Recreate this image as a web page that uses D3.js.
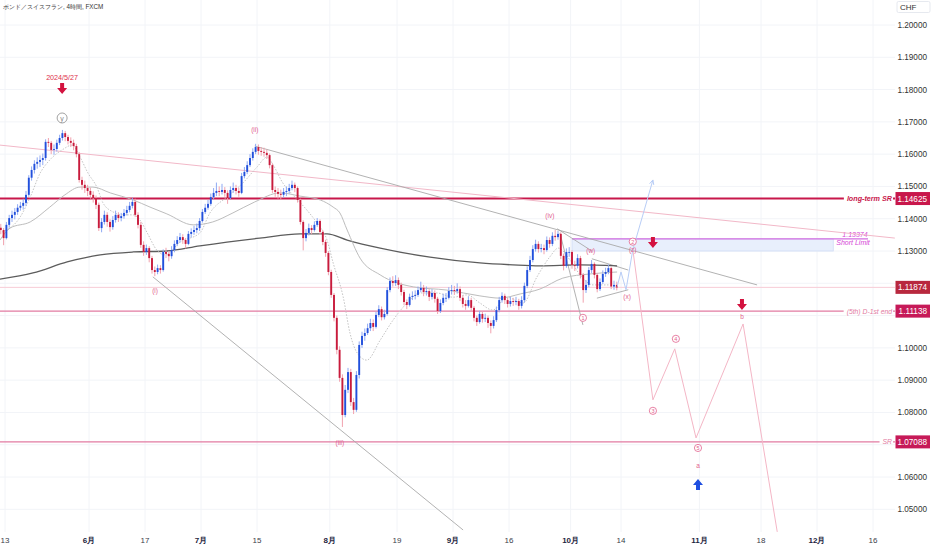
<!DOCTYPE html>
<html>
<head>
<meta charset="utf-8">
<script src="https://cdn.jsdelivr.net/npm/d3@7"></script>
<style>
  html, body { margin: 0; padding: 0; background: #fff; }
  svg { display: block; }
  text { font-family: "Liberation Sans", Arial, sans-serif; }
</style>
</head>
<body>
<svg id="chart"></svg>
<script>
// ---- data (12h bars, prices in CHF) ----
const startDay = -1;          // trading-day index of the first bar (Fri 10 May)
const firstOpen = 1.1372;

const closes = [
  1.1365,1.1340,1.1381,1.1402,1.1412,1.1421,1.1434,1.1440,1.1449,1.1474,
  1.1527,1.1551,1.1570,1.1576,1.1582,1.1588,1.1638,1.1635,1.1613,1.1616,
  1.1635,1.1650,1.1665,1.1653,1.1641,1.1635,1.1625,1.1600,1.1520,1.1505,
  1.1495,1.1486,1.1474,1.1464,1.1443,1.1371,1.1390,1.1412,1.1390,1.1374,
  1.1396,1.1412,1.1402,1.1408,1.1418,1.1427,1.1440,1.1452,1.1412,1.1381,
  1.1319,1.1297,1.1309,1.1278,1.1241,1.1235,1.1247,1.1241,1.1297,1.1291,
  1.1284,1.1303,1.1322,1.1334,1.1343,1.1334,1.1322,1.1353,1.1359,1.1365,
  1.1371,1.1393,1.1421,1.1434,1.1446,1.1467,1.1480,1.1486,1.1483,1.1489,
  1.1480,1.1464,1.1489,1.1495,1.1486,1.1480,1.1532,1.1545,1.1566,1.1588,
  1.1607,1.1622,1.1610,1.1607,1.1604,1.1597,1.1566,1.1489,1.1483,1.1477,
  1.1474,1.1483,1.1486,1.1495,1.1505,1.1495,1.1458,1.1390,1.1340,1.1356,
  1.1371,1.1365,1.1381,1.1393,1.1359,1.1328,1.1294,1.1235,1.1164,1.1093,
  1.0994,1.0907,1.0792,1.0870,1.0925,1.0832,1.0808,1.0916,1.1009,1.1037,
  1.1046,1.1061,1.1077,1.1065,1.1102,1.1120,1.1095,1.1105,1.1179,1.1207,
  1.1201,1.1210,1.1195,1.1173,1.1142,1.1133,1.1158,1.1161,1.1164,1.1179,
  1.1186,1.1173,1.1176,1.1158,1.1170,1.1152,1.1114,1.1139,1.1155,1.1155,
  1.1176,1.1179,1.1176,1.1182,1.1155,1.1136,1.1130,1.1148,1.1124,1.1093,
  1.1080,1.1105,1.1090,1.1093,1.1077,1.1068,1.1086,1.1117,1.1148,1.1161,
  1.1148,1.1136,1.1145,1.1142,1.1145,1.1130,1.1148,1.1192,1.1241,1.1272,
  1.1306,1.1322,1.1306,1.1309,1.1303,1.1334,1.1322,1.1347,1.1343,1.1353,
  1.1285,1.1254,1.1297,1.1297,1.1257,1.1254,1.1278,1.1226,1.1179,1.1195,
  1.1241,1.1260,1.1226,1.1182,1.1204,1.1229,1.1235,1.1247,1.1190,1.1195,1.1187
];

const highs = [
  1.1384,1.1371,1.1390,1.1412,1.1425,1.1433,1.1445,1.1452,1.1462,1.1486,
  1.1535,1.1562,1.1581,1.1590,1.1596,1.1602,1.1646,1.1650,1.1641,1.1630,
  1.1645,1.1660,1.1675,1.1672,1.1660,1.1652,1.1645,1.1632,1.1606,1.1530,
  1.1518,1.1505,1.1496,1.1485,1.1472,1.1450,1.1402,1.1425,1.1420,1.1398,
  1.1408,1.1425,1.1420,1.1418,1.1430,1.1440,1.1452,1.1465,1.1462,1.1420,
  1.1390,1.1330,1.1320,1.1315,1.1285,1.1252,1.1258,1.1256,1.1305,1.1310,
  1.1300,1.1315,1.1333,1.1346,1.1356,1.1352,1.1340,1.1362,1.1370,1.1378,
  1.1385,1.1402,1.1430,1.1446,1.1458,1.1478,1.1495,1.1512,1.1500,1.1508,
  1.1498,1.1488,1.1500,1.1512,1.1505,1.1496,1.1542,1.1560,1.1578,1.1600,
  1.1618,1.1632,1.1630,1.1622,1.1620,1.1615,1.1602,1.1572,1.1500,1.1495,
  1.1490,1.1495,1.1500,1.1508,1.1518,1.1512,1.1500,1.1462,1.1395,1.1368,
  1.1385,1.1380,1.1392,1.1402,1.1398,1.1365,1.1335,1.1300,1.1242,1.1170,
  1.1100,1.1005,1.0918,1.0885,1.0938,1.0935,1.0845,1.0928,1.1020,1.1050,
  1.1060,1.1075,1.1090,1.1088,1.1112,1.1132,1.1128,1.1118,1.1188,1.1218,
  1.1222,1.1225,1.1218,1.1202,1.1180,1.1150,1.1168,1.1175,1.1178,1.1190,
  1.1205,1.1195,1.1190,1.1182,1.1182,1.1178,1.1158,1.1150,1.1168,1.1170,
  1.1188,1.1195,1.1192,1.1200,1.1190,1.1162,1.1148,1.1160,1.1155,1.1130,
  1.1100,1.1115,1.1112,1.1106,1.1100,1.1085,1.1098,1.1128,1.1158,1.1172,
  1.1168,1.1155,1.1158,1.1155,1.1158,1.1152,1.1160,1.1202,1.1252,1.1285,
  1.1318,1.1335,1.1330,1.1322,1.1320,1.1345,1.1342,1.1358,1.1365,1.1362,
  1.1358,1.1292,1.1308,1.1312,1.1302,1.1270,1.1290,1.1285,1.1232,1.1210,
  1.1250,1.1272,1.1265,1.1232,1.1215,1.1240,1.1248,1.1258,1.1252,1.1208,1.1205
];

const lows = [
  1.1352,1.1318,1.1336,1.1372,1.1390,1.1398,1.1412,1.1425,1.1428,1.1440,
  1.1468,1.1518,1.1540,1.1555,1.1560,1.1566,1.1580,1.1622,1.1600,1.1598,
  1.1608,1.1628,1.1642,1.1640,1.1630,1.1622,1.1612,1.1590,1.1512,1.1490,
  1.1480,1.1470,1.1462,1.1450,1.1430,1.1362,1.1358,1.1382,1.1375,1.1360,
  1.1366,1.1388,1.1390,1.1392,1.1400,1.1410,1.1420,1.1432,1.1405,1.1370,
  1.1310,1.1285,1.1288,1.1265,1.1230,1.1222,1.1228,1.1230,1.1236,1.1278,
  1.1268,1.1276,1.1296,1.1315,1.1326,1.1322,1.1308,1.1318,1.1342,1.1350,
  1.1355,1.1362,1.1388,1.1415,1.1428,1.1440,1.1460,1.1470,1.1470,1.1475,
  1.1468,1.1446,1.1460,1.1480,1.1475,1.1468,1.1476,1.1525,1.1538,1.1560,
  1.1580,1.1600,1.1598,1.1595,1.1592,1.1585,1.1556,1.1480,1.1468,1.1462,
  1.1460,1.1465,1.1470,1.1478,1.1488,1.1482,1.1450,1.1382,1.1302,1.1330,
  1.1348,1.1352,1.1360,1.1375,1.1350,1.1318,1.1282,1.1225,1.1155,1.1082,
  1.0980,1.0895,1.0755,1.0785,1.0860,1.0820,1.0795,1.0802,1.0905,1.1000,
  1.1022,1.1040,1.1052,1.1052,1.1060,1.1095,1.1085,1.1088,1.1100,1.1172,
  1.1190,1.1192,1.1182,1.1162,1.1132,1.1120,1.1128,1.1148,1.1150,1.1158,
  1.1172,1.1160,1.1162,1.1145,1.1150,1.1140,1.1105,1.1108,1.1132,1.1142,
  1.1150,1.1165,1.1164,1.1168,1.1145,1.1125,1.1118,1.1125,1.1112,1.1082,
  1.1068,1.1075,1.1078,1.1080,1.1062,1.1045,1.1060,1.1080,1.1110,1.1140,
  1.1136,1.1125,1.1128,1.1130,1.1132,1.1118,1.1122,1.1140,1.1185,1.1235,
  1.1265,1.1298,1.1295,1.1296,1.1290,1.1298,1.1310,1.1315,1.1332,1.1335,
  1.1275,1.1240,1.1248,1.1282,1.1245,1.1238,1.1246,1.1215,1.1140,1.1170,
  1.1188,1.1232,1.1215,1.1172,1.1176,1.1198,1.1220,1.1228,1.1182,1.1180,1.1178
];

// moving averages: [trading day, price]
const maLong = [
  [-0.9,1.1213],[5.0,1.1232],[11.1,1.1266],[17.0,1.1288],[22.9,1.1297],[28.9,1.1300],
  [34.8,1.1316],[45.5,1.1340],[52.7,1.1353],[57.5,1.1353],[61.1,1.1334],[67.0,1.1309],
  [75.9,1.1281],[84.8,1.1263],[90.7,1.1257],[95.5,1.1254],[102.7,1.1257],[109.3,1.1254]
];
const maMid = [
  [-0.9,1.1334],[0.9,1.1371],[4.5,1.1390],[8.0,1.1436],[10.7,1.1474],[13.4,1.1498],
  [15.7,1.1498],[18.8,1.1480],[22.9,1.1458],[25.9,1.1436],[28.9,1.1415],[33.6,1.1381],
  [37.1,1.1390],[40.7,1.1418],[44.6,1.1452],[49.1,1.1480],[52.7,1.1470],[56.3,1.1458],
  [58.6,1.1436],[59.8,1.1418],[61.1,1.1365],[63.4,1.1278],[67.0,1.1226],[72.9,1.1189],
  [78.9,1.1179],[84.8,1.1161],[88.4,1.1154],[92.0,1.1167],[95.5,1.1182],[99.6,1.1216],
  [104.5,1.1229],[109.3,1.1235]
];
const maShort = [
  [-0.5,1.1359],[2.7,1.1405],[4.5,1.1467],[6.3,1.1542],[8.0,1.1582],[10.2,1.1613],
  [12.0,1.1628],[13.4,1.1591],[14.8,1.1542],[16.4,1.1498],[17.5,1.1449],[19.3,1.1421],
  [21.1,1.1412],[22.9,1.1412],[24.1,1.1396],[25.4,1.1356],[27.1,1.1303],[28.6,1.1288],
  [31.3,1.1328],[34.8,1.1356],[36.6,1.1418],[39.6,1.1467],[42.5,1.1511],[45.0,1.1560],
  [46.8,1.1591],[47.9,1.1566],[49.6,1.1511],[51.4,1.1474],[53.9,1.1427],[55.7,1.1387],
  [57.5,1.1334],[58.6,1.1263],[60.4,1.1157],[61.6,1.1046],[62.9,1.0984],[64.6,1.0962],
  [67.0,1.1024],[69.3,1.1086],[71.8,1.1139],[74.1,1.1170],[77.1,1.1170],[80.0,1.1157],
  [82.5,1.1164],[84.8,1.1139],[87.1,1.1117],[89.6,1.1157],[92.5,1.1139],[95.0,1.1220],
  [97.3,1.1282],[98.8,1.1309],[100.9,1.1272],[102.7,1.1226],[105.0,1.1195],[108.0,1.1195]
];

// axes
const priceTicks = [1.05,1.06,1.07,1.08,1.09,1.10,1.11,1.12,1.13,1.14,1.15,1.16,1.17,1.18,1.19,1.20];
const tickDays   = [0,15,25,35,45,58,70,80,90,101,110,124,135,145,155];
const tickLabels = ['13','6月','17','7月','15','8月','19','9月','16','10月','14','11月','18','12月','16'];

// drawings
const grayLines = [
  [[44.6,1.1625],[134.3,1.1195]],
  [[26.4,1.1220],[81.8,1.0436]],
  [[98.6,1.1369],[104.8,1.1300]],
  [[99.1,1.1356],[103.2,1.1071]],
  [[104.8,1.1276],[111.3,1.1241]],
  [[105.7,1.1154],[111.3,1.1180]]
];
const pinkTrend = [[-0.9,1.1628],[158.9,1.1340]];
const pinkPath  = [[112.1,1.1306],[115.7,1.0839],[119.6,1.0997],[123.4,1.0721],[131.8,1.1074],[137.9,1.0430]];
const bluePath  = [[109.3,1.1189],[110.0,1.1235],[110.9,1.1180],[112.1,1.1303],[115.7,1.1520]];

const levelPrices = [1.14625, 1.11138, 1.07088];
const levelNames  = ['long-term SR', '(5th) D-1st end', 'SR'];
const lastPrice = 1.11874;
const limitPrice = 1.13374, zoneLow = 1.1300, zoneDays = [101.25, 147.9];

const waveText  = ['(ii)','(i)','(iii)','(iv)','(w)','(x)','(z)','1','2','3','4','5','a','b','y'];
const waveDay   = [44.6, 26.8, 59.8, 97.3, 104.6, 111.1, 112.1, 103.2, 112.1, 115.7, 119.8, 123.75, 123.75, 131.6, 10.2];
const wavePrice = [1.1675,1.1176,1.0706,1.1408,1.1300,1.1158,1.1305,1.1093,1.1329,1.0805,1.1028,1.0690,1.0634,1.1096,1.1712];

const arrowsDown = [[10.2,1.1802],[115.7,1.1325],[131.6,1.1133]];
const arrowsUp   = [[123.75,1.0578]];
const dateNote = ['2024/5/27', 10.2, 1.1830];

// ---- chart ----
const W = 932, H = 550;
const plotRight = 895, plotBottom = 532;
const svg = d3.select('#chart').attr('width', W).attr('height', H);

const x = d3.scaleLinear().domain([0, 155]).range([5, 873]);
const y = d3.scaleLinear().domain([1.05, 1.20]).range([509.3, 25]);

svg.append('defs').append('clipPath').attr('id', 'plot')
  .append('rect').attr('x', 0).attr('y', 0).attr('width', plotRight).attr('height', plotBottom);

// grid
const grid = svg.append('g');
grid.selectAll('line.h').data(priceTicks).enter().append('line')
  .attr('x1', 0).attr('x2', plotRight)
  .attr('y1', d => y(d)).attr('y2', d => y(d))
  .attr('stroke', '#f2f4f8').attr('stroke-width', 1);
grid.selectAll('line.v').data(tickDays).enter().append('line')
  .attr('x1', d => x(d)).attr('x2', d => x(d))
  .attr('y1', 0).attr('y2', plotBottom)
  .attr('stroke', '#f2f4f8').attr('stroke-width', 1);

const plot = svg.append('g').attr('clip-path', 'url(#plot)');
const pt = d => [x(d[0]), y(d[1])];

// zone box
plot.append('rect')
  .attr('x', x(zoneDays[0])).attr('width', x(zoneDays[1]) - x(zoneDays[0]))
  .attr('y', y(limitPrice)).attr('height', y(zoneLow) - y(limitPrice))
  .attr('fill', '#e8effc').attr('stroke', '#cfdcf5').attr('stroke-width', 0.8);

// level lines
plot.append('line').attr('x1', 0).attr('x2', plotRight)
  .attr('y1', y(lastPrice)).attr('y2', y(lastPrice))
  .attr('stroke', '#f7cbd6').attr('stroke-width', 1);

const levelColor = ['#c8174b', '#e27ba2', '#e27ba2'];
const levelWidth = [2, 1.2, 1.2];
levelPrices.forEach((p, i) => {
  const t = plot.append('text').attr('x', 892).attr('y', y(p) + 2.5)
    .attr('text-anchor', 'end').attr('font-size', i === 0 ? 7.2 : 6.8)
    .attr('font-style', 'italic').attr('font-weight', i === 0 ? 'bold' : 'normal')
    .attr('fill', levelColor[i]).text(levelNames[i]);
  const tw = t.node().getComputedTextLength();
  plot.insert('line', 'text').attr('x1', 0).attr('x2', 892 - tw - 3)
    .attr('y1', y(p)).attr('y2', y(p))
    .attr('stroke', levelColor[i]).attr('stroke-width', levelWidth[i]);
  plot.append('line').attr('x1', 893).attr('x2', plotRight)
    .attr('y1', y(p)).attr('y2', y(p))
    .attr('stroke', levelColor[i]).attr('stroke-width', levelWidth[i]);
});

// limit line + labels
plot.append('line').attr('x1', x(zoneDays[0])).attr('x2', 868)
  .attr('y1', y(limitPrice)).attr('y2', y(limitPrice))
  .attr('stroke', '#d36ce0').attr('stroke-width', 1.3);
plot.append('text').attr('x', 855).attr('y', y(limitPrice) - 1.5)
  .attr('text-anchor', 'middle').attr('font-size', 7).attr('font-style', 'italic')
  .attr('fill', '#d63fd6').text(limitPrice.toFixed(5));
plot.append('text').attr('x', 853).attr('y', y(limitPrice) + 6.5)
  .attr('text-anchor', 'middle').attr('font-size', 7).attr('font-style', 'italic')
  .attr('fill', '#d63fd6').text('Short Limit');

// trend lines
const line = d3.line().x(d => x(d[0])).y(d => y(d[1]));
plot.append('path').attr('d', line(pinkTrend)).attr('fill', 'none')
  .attr('stroke', '#f2b8c8').attr('stroke-width', 1);
grayLines.forEach(l => {
  plot.append('path').attr('d', line(l)).attr('fill', 'none')
    .attr('stroke', '#a9a9a9').attr('stroke-width', 0.9);
});

// moving averages
const curve = d3.line().x(d => x(d[0])).y(d => y(d[1])).curve(d3.curveMonotoneX);
plot.append('path').attr('d', curve(maLong)).attr('fill', 'none')
  .attr('stroke', '#5c5c5c').attr('stroke-width', 1.3);
plot.append('path').attr('d', curve(maMid)).attr('fill', 'none')
  .attr('stroke', '#bdbdbd').attr('stroke-width', 1);
plot.append('path').attr('d', curve(maShort)).attr('fill', 'none')
  .attr('stroke', '#c4c4c4').attr('stroke-width', 1).attr('stroke-dasharray', '1.5,1.5');

// candles
const bars = closes.map((c, i) => ({
  day: startDay + 0.5 * i + 0.25,
  o: i ? closes[i - 1] : firstOpen,
  h: highs[i], l: lows[i], c
}));
const cg = plot.append('g');
cg.selectAll('line').data(bars).enter().append('line')
  .attr('x1', d => x(d.day)).attr('x2', d => x(d.day))
  .attr('y1', d => y(Math.max(d.h, d.o, d.c))).attr('y2', d => y(Math.min(d.l, d.o, d.c)))
  .attr('stroke', d => d.c >= d.o ? '#8fa9f3' : '#f1a2ae').attr('stroke-width', 1);
cg.selectAll('rect').data(bars).enter().append('rect')
  .attr('x', d => x(d.day) - 0.95).attr('width', 1.9)
  .attr('y', d => y(Math.max(d.o, d.c)))
  .attr('height', d => Math.max(0.8, Math.abs(y(d.o) - y(d.c))))
  .attr('fill', d => d.c >= d.o ? '#2250dc' : '#c81b3c');

// projections
plot.append('path').attr('d', line(pinkPath)).attr('fill', 'none')
  .attr('stroke', '#f4b6c6').attr('stroke-width', 1);
plot.append('path').attr('d', line(bluePath)).attr('fill', 'none')
  .attr('stroke', '#b8cdf6').attr('stroke-width', 1);
{
  const n = bluePath.length;
  const [x1, y1] = pt(bluePath[n - 2]), [x2, y2] = pt(bluePath[n - 1]);
  const a = Math.atan2(y2 - y1, x2 - x1);
  const head = [[x2 - 5 * Math.cos(a - 0.45), y2 - 5 * Math.sin(a - 0.45)], [x2, y2],
                [x2 - 5 * Math.cos(a + 0.45), y2 - 5 * Math.sin(a + 0.45)]];
  plot.append('path').attr('d', d3.line()(head)).attr('fill', 'none')
    .attr('stroke', '#b8cdf6').attr('stroke-width', 1);
}

// wave labels
const wg = plot.append('g');
waveText.forEach((t, i) => {
  const cx = x(waveDay[i]), cy = y(wavePrice[i]);
  const gray = t === 'y';
  const col = gray ? '#8a8a8a' : '#e2628e';
  if (/^[1-5y]$/.test(t)) {
    wg.append('circle').attr('cx', cx).attr('cy', cy).attr('r', gray ? 5 : 3.6)
      .attr('fill', '#fff').attr('stroke', col).attr('stroke-width', 0.8);
    wg.append('text').attr('x', cx).attr('y', cy + (gray ? 2.6 : 2))
      .attr('text-anchor', 'middle').attr('font-size', gray ? 7 : 5.5)
      .attr('fill', col).text(t);
  } else {
    wg.append('text').attr('x', cx).attr('y', cy + 2.3)
      .attr('text-anchor', 'middle').attr('font-size', 6.5)
      .attr('fill', col).text(t);
  }
});

// arrows
const downArrow = (cx, cy) => `M${cx - 2},${cy - 6}h4v5h3l-5,6l-5,-6h3z`;
const upArrow = (cx, cy) => `M${cx - 2},${cy + 6}h4v-5h3l-5,-6l-5,6h3z`;
arrowsDown.forEach(a => plot.append('path').attr('d', downArrow(...pt(a))).attr('fill', '#d3123f'));
arrowsUp.forEach(a => plot.append('path').attr('d', upArrow(...pt(a))).attr('fill', '#1f4fe0'));
plot.append('text').attr('x', x(dateNote[1])).attr('y', y(dateNote[2]))
  .attr('text-anchor', 'middle').attr('font-size', 7.2).attr('fill', '#e0304a').text(dateNote[0]);

// right price axis (ticks hidden where a price tag covers them)
const tagPrices = [levelPrices[0], lastPrice, levelPrices[1], levelPrices[2]];
const tagColors = ['#c8174b', '#b8283e', '#c61a58', '#c61a58'];
const axisG = svg.append('g');
axisG.selectAll('text.tick')
  .data(priceTicks.filter(p => tagPrices.every(t => Math.abs(y(p) - y(t)) > 10)))
  .enter().append('text')
  .attr('x', 927).attr('y', d => y(d) + 3)
  .attr('text-anchor', 'end').attr('font-size', 8.2).attr('fill', '#333')
  .text(d => d.toFixed(5));

tagPrices.forEach((p, i) => {
  axisG.append('rect').attr('x', 895.5).attr('y', y(p) - 6.5).attr('width', 34.5).attr('height', 13)
    .attr('fill', tagColors[i]);
  axisG.append('text').attr('x', 927).attr('y', y(p) + 3)
    .attr('text-anchor', 'end').attr('font-size', 8.2).attr('fill', '#fff').text(p.toFixed(5));
});

// currency box
axisG.append('rect').attr('x', 897).attr('y', 1.5).attr('width', 33).attr('height', 11)
  .attr('fill', '#fff').attr('stroke', '#e0e3eb').attr('stroke-width', 0.8).attr('rx', 1.5);
axisG.append('text').attr('x', 900).attr('y', 10).attr('font-size', 8).attr('fill', '#333').text('CHF');

// time axis
svg.append('g').selectAll('text').data(tickDays).enter().append('text')
  .attr('x', d => x(d)).attr('y', 543)
  .attr('text-anchor', 'middle').attr('font-size', 8)
  .attr('font-weight', (d, i) => tickLabels[i].includes('月') ? 'bold' : 'normal')
  .attr('fill', (d, i) => tickLabels[i].includes('月') ? '#1e2440' : '#3a3e4a')
  .text((d, i) => tickLabels[i]);

// title
svg.append('text').attr('x', 3).attr('y', 9).attr('font-size', 6.3)
  .attr('font-family', '"Noto Sans CJK JP", sans-serif').attr('fill', '#333')
  .text('ポンド／スイスフラン, 4時間, FXCM');
</script>
</body>
</html>
